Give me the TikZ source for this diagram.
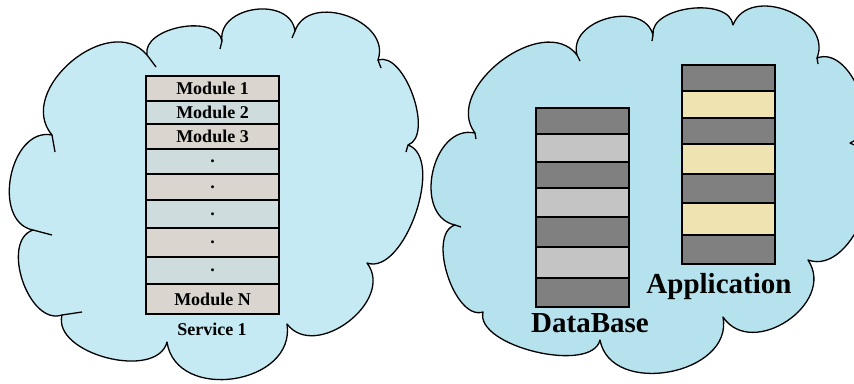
\documentclass[tikz,border=0pt]{standalone}
\usepackage{fontspec}
\setmainfont{Liberation Serif}

\definecolor{skyleft}{HTML}{C5EAF3}
\definecolor{skyright}{HTML}{B6E2EE}
\definecolor{modtan}{HTML}{DAD5CF}
\definecolor{modgrey}{HTML}{CEDCDD}
\definecolor{dbdark}{HTML}{808080}
\definecolor{dblight}{HTML}{C4C4C4}
\definecolor{appcream}{HTML}{EFE3B1}

\tikzset{
  cloudline/.style={line width=1.3pt, line join=round},
  layer/.style={draw=black, line width=1.8pt},
  modtext/.style={font=\bfseries\fontsize{18}{21}\selectfont},
  bigtext/.style={font=\bfseries\fontsize{29}{34}\selectfont},
}

\begin{document}
\begin{tikzpicture}[x=1pt,y=-1pt]
    \useasboundingbox (0,0) rectangle (854,383);

    %% Service cloud
    % Cloud outline
    \draw[cloudline, fill=skyleft] (52,135)
        to[bend left=90, looseness=1.2] (147,55)
        to[bend left=90, looseness=0.95] (222,41)
        to[bend left=90, looseness=1.24] (295,31)
        to[bend left=90, looseness=1.22] (378,60)
        to[bend left=90, looseness=0.8] (408,145)
        to[bend left=90, looseness=0.81] (367,263)
        to[bend left=90, looseness=1.2] (287,324)
        to[bend left=90, looseness=1.3] (167,342)
        to[bend left=90, looseness=0.95] (62,315)
        to[bend left=90, looseness=1.0] (33,230)
        to[bend left=90, looseness=1.14] (52,135) -- cycle;
    % Inner tails
    \draw[cloudline] (52,135) -- (55,152);
    \draw[cloudline] (147,55) -- (156,67);
    \draw[cloudline] (222,41) -- (220,49);
    \draw[cloudline] (295,31) -- (292,38);
    \draw[cloudline] (378,60) -- (381,68);
    \draw[cloudline] (408,145) -- (406,152);
    \draw[cloudline] (62,315) -- (82,312);
    \draw[cloudline] (33,230) -- (52,235);

    % Module stack
    \foreach \ya/\yb/\col/\txt [count=\i] in {76/101/modtan/Module 1,
        101/124/modgrey/Module 2, 124/149/modtan/Module 3,
        149/174/modgrey/., 174/200/modtan/., 200/228/modgrey/.,
        228/257/modtan/., 257/284/modgrey/., 284/314/modtan/Module N} {
        \draw[layer, fill=\col] (146,\ya) rectangle (279,\yb);
        \node[modtext] (mod\i) at (212.5,{(\ya+\yb)/2}) {\txt};
    }
    \node[modtext, anchor=base] (service) at (212,335) {Service 1};

    %% Data cloud
    % Cloud outline
    \draw[cloudline, fill=skyright] (475,133)
        to[bend left=90, looseness=1.1] (577,55)
        to[bend left=90, looseness=1.2] (653,35)
        to[bend left=90, looseness=0.92] (733,25)
        to[bend left=90, looseness=1.26] (817,58)
        to[bend left=90, looseness=1.02] (850,143)
        to[bend left=90, looseness=1.02] (808,260)
        to[bend left=90, looseness=1.3] (723,317)
        to[bend left=90, looseness=1.2] (600,340)
        to[bend left=90, looseness=0.75] (483,312)
        to[bend left=90, looseness=0.84] (455,225)
        to[bend left=90, looseness=1.2] (475,133) -- cycle;
    % Inner tails
    \draw[cloudline] (475,133) -- (476,139);
    \draw[cloudline] (577,55) -- (580,61);
    \draw[cloudline] (653,35) -- (652,41);
    \draw[cloudline] (817,58) -- (818,64);
    \draw[cloudline] (455,225) -- (461,227);

    % Database stack
    \foreach \ya/\yb/\col in {108/134/dbdark, 134/162/dblight, 162/188/dbdark,
        188/217/dblight, 217/247/dbdark, 247/278/dblight, 278/307/dbdark} {
        \draw[layer, fill=\col] (536,\ya) rectangle (629,\yb);
    }
    \node[bigtext, anchor=base] (dbname) at (590,332) {DataBase};

    % Application stack
    \foreach \ya/\yb/\col in {65/91/dbdark, 91/118/appcream, 118/144/dbdark,
        144/174/appcream, 174/203/dbdark, 203/235/appcream, 235/264/dbdark} {
        \draw[layer, fill=\col] (682,\ya) rectangle (775,\yb);
    }
    \node[bigtext, anchor=base] (appname) at (719,293) {Application};

\end{tikzpicture}
\end{document}
